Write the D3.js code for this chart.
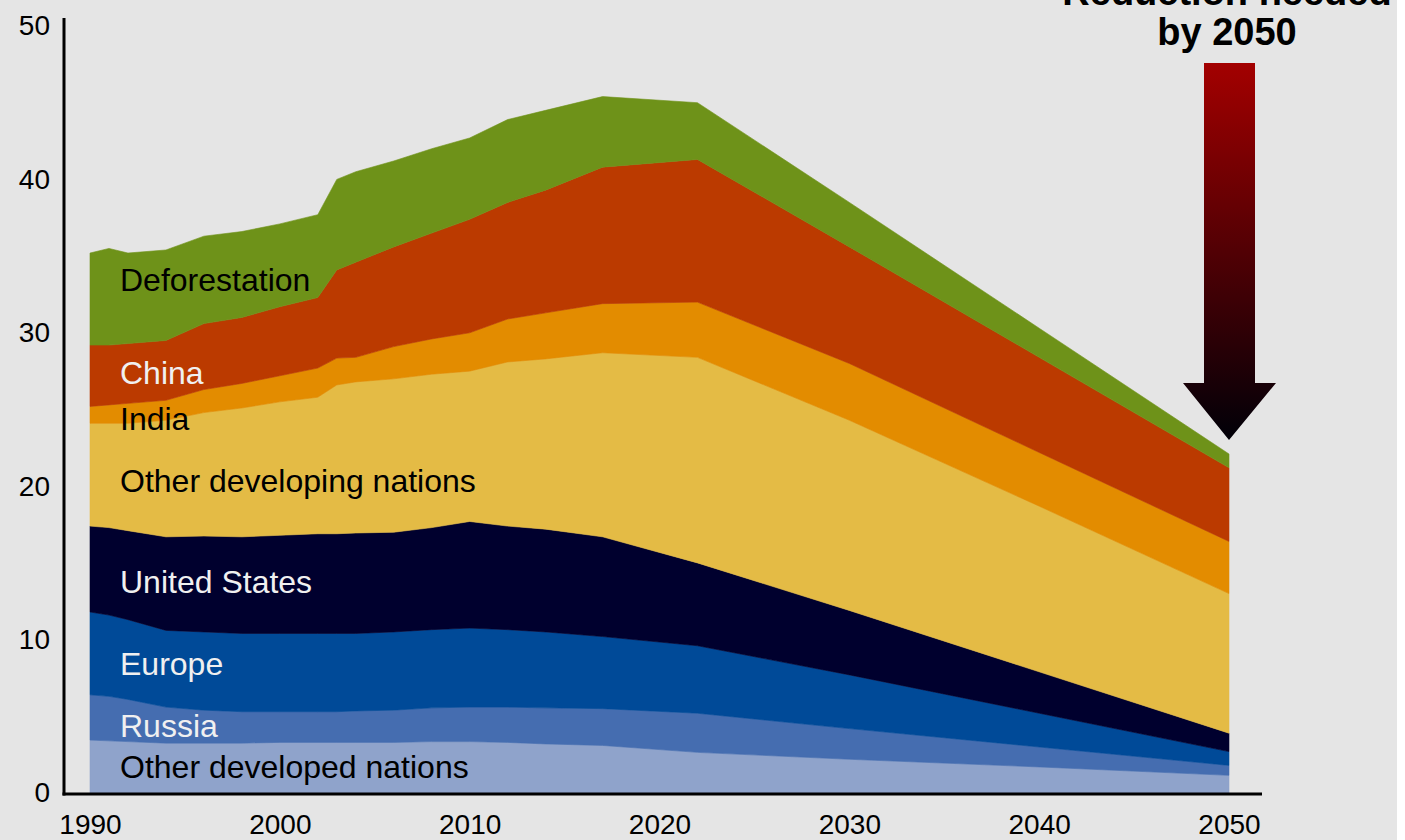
<!DOCTYPE html>
<html>
<head>
<meta charset="utf-8">
<script src="https://cdn.jsdelivr.net/npm/d3@7"></script>
<style>
  html, body { margin: 0; padding: 0; background: #ffffff; }
  svg { display: block; }
  text { font-family: "Liberation Sans", Arial, Helvetica, sans-serif; }
</style>
</head>
<body>
<svg id="chart" width="1405" height="840"></svg>
<script>
// ---- data (Gt CO2e per year) ----
const years = [1990,1991,1992,1994,1996,1998,2000,2002,2003,2004,2006,2008,2010,2012,2014,2017,2022,2030,2040,2050];
const otherDeveloped  = [3.45,3.4,3.35,3.25,3.25,3.25,3.3,3.3,3.3,3.3,3.3,3.35,3.35,3.3,3.2,3.1,2.65,2.2,1.7,1.15];
const russia          = [2.95,2.9,2.75,2.35,2.15,2.05,2.0,2.0,2.0,2.05,2.1,2.2,2.25,2.3,2.35,2.4,2.55,2.0,1.3,0.65];
const europe          = [5.4,5.3,5.2,5.0,5.1,5.1,5.1,5.1,5.1,5.05,5.1,5.1,5.15,5.05,4.95,4.7,4.4,3.5,2.2,0.9];
const unitedStates    = [5.6,5.7,5.8,6.1,6.25,6.3,6.4,6.5,6.5,6.55,6.5,6.65,6.95,6.75,6.7,6.5,5.4,4.2,2.7,1.2];
const otherDeveloping = [6.7,6.8,7.0,7.6,8.05,8.4,8.7,8.9,9.7,9.85,10.0,10.0,9.8,10.7,11.1,12.0,13.4,12.4,10.8,9.1];
const india           = [1.1,1.2,1.3,1.3,1.5,1.6,1.7,1.9,1.75,1.6,2.1,2.3,2.5,2.8,3.0,3.2,3.6,3.7,3.5,3.4];
const china           = [4.0,3.9,3.9,3.9,4.3,4.3,4.5,4.6,5.75,6.2,6.5,6.9,7.4,7.6,8.0,8.9,9.3,7.6,6.2,4.8];
const deforestation   = [6.0,6.3,5.9,5.9,5.7,5.6,5.4,5.4,5.9,5.9,5.6,5.5,5.3,5.4,5.2,4.6,3.7,2.9,1.9,0.9];

const seriesKeys   = ["Other developed nations","Russia","Europe","United States","Other developing nations","India","China","Deforestation"];
const seriesColors = ["#8fa3cb","#456db0","#004a98","#00002e","#e4bb45","#e38c00","#bb3a00","#6e9219"];
const labelColors  = ["#000000","#f0f0f0","#f0f0f0","#f0f0f0","#000000","#000000","#f0f0f0","#000000"];
const labelValues  = [0.98, 3.65, 7.69, 13.04, 19.62, 23.66, 26.66, 32.72]; // baseline of each label, in data units
const yTicks = [0,10,20,30,40,50];
const xTicks = [1990,2000,2010,2020,2030,2040,2050];

// ---- build table ----
const seriesValues = [otherDeveloped, russia, europe, unitedStates, otherDeveloping, india, china, deforestation];
const table = years.map((yr, i) => {
  const row = { year: yr };
  seriesKeys.forEach((k, j) => row[k] = seriesValues[j][i]);
  return row;
});

const svg = d3.select("#chart");
svg.append("rect").attr("x",0).attr("y",0).attr("width",1397).attr("height",840).attr("fill","#e5e5e5");

const x = d3.scaleLinear().domain([1990, 2050]).range([90, 1229]);
const y = d3.scaleLinear().domain([0, 50]).range([793, 26]);

const stack = d3.stack().keys(seriesKeys);
const layers = stack(table);

const area = d3.area()
  .x(d => x(d.data.year))
  .y0(d => y(d[0]))
  .y1(d => y(d[1]))
  .curve(d3.curveLinear);

svg.append("g").selectAll("path")
  .data(layers)
  .join("path")
  .attr("d", area)
  .attr("fill", (d, i) => seriesColors[i])
  .attr("stroke", (d, i) => seriesColors[i])
  .attr("stroke-width", 0.6);

// labels
svg.append("g").selectAll("text")
  .data(seriesKeys)
  .join("text")
  .attr("x", 120)
  .attr("y", (d, i) => y(labelValues[i]))
  .attr("font-size", 32)
  .attr("fill", (d, i) => labelColors[i])
  .text(d => d);

// axes
const yAxis = d3.axisLeft(y).tickValues(yTicks).tickSize(0).tickPadding(14);
const gy = svg.append("g").attr("transform", "translate(64,0)").call(yAxis);
gy.select(".domain").remove();
gy.selectAll("text").attr("font-size", 28).attr("fill", "#000")
  .style("font-family", '"Liberation Sans", Arial, sans-serif');

const xAxis = d3.axisBottom(x).tickValues(xTicks).tickFormat(d3.format("d")).tickSize(0).tickPadding(20);
const gx = svg.append("g").attr("transform", "translate(0,794)").call(xAxis);
gx.select(".domain").remove();
gx.selectAll("text").attr("font-size", 28).attr("fill", "#000")
  .style("font-family", '"Liberation Sans", Arial, sans-serif');

svg.append("line").attr("x1",64).attr("x2",64).attr("y1",18).attr("y2",795.5)
  .attr("stroke","#000").attr("stroke-width",3);
svg.append("line").attr("x1",62.5).attr("x2",1262).attr("y1",794).attr("y2",794)
  .attr("stroke","#000").attr("stroke-width",3);

// arrow with gradient
const defs = svg.append("defs");
const grad = defs.append("linearGradient").attr("id","arrowGrad")
  .attr("x1",0).attr("y1",0).attr("x2",0).attr("y2",1);
grad.append("stop").attr("offset","0%").attr("stop-color","#a30000");
grad.append("stop").attr("offset","100%").attr("stop-color","#000008");

const ax = x(2050);
const arrowPath = d3.path();
arrowPath.moveTo(ax - 25, 63);
arrowPath.lineTo(ax + 26, 63);
arrowPath.lineTo(ax + 26, 383);
arrowPath.lineTo(ax + 47, 383);
arrowPath.lineTo(ax, 440);
arrowPath.lineTo(ax - 46, 383);
arrowPath.lineTo(ax - 25, 383);
arrowPath.closePath();
svg.append("path").attr("d", arrowPath.toString()).attr("fill","url(#arrowGrad)");

// title (top line is cropped by the frame, as in the reference)
svg.append("text").attr("x", ax - 2).attr("y", 5).attr("text-anchor","middle")
  .attr("font-size", 38).attr("font-weight","bold").attr("fill","#000")
  .text("Reduction needed");
svg.append("text").attr("x", ax - 2).attr("y", 45).attr("text-anchor","middle")
  .attr("font-size", 38).attr("font-weight","bold").attr("fill","#000")
  .text("by 2050");
</script>
</body>
</html>
